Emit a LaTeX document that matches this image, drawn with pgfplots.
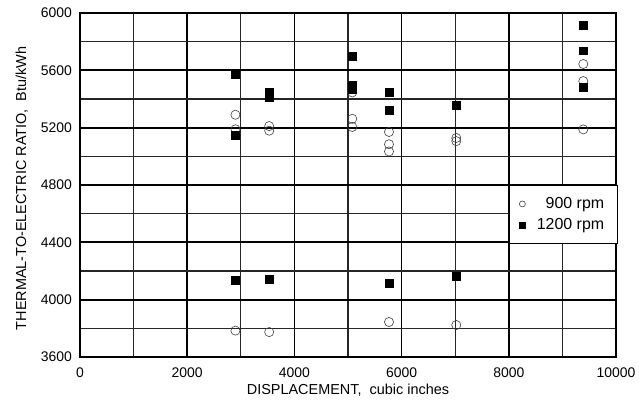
\documentclass[border=0pt]{standalone}
\usepackage{pgfplots}
\pgfplotsset{compat=1.18}
\usepackage{fontspec}
\setmainfont{Liberation Sans}
\begin{document}
\begin{tikzpicture}
\path[use as bounding box] (-80bp,-50bp) rectangle (559bp,357bp);
\begin{axis}[
  at={(0,0)}, anchor=south west,
  scale only axis, width=536bp, height=344bp,
  xmin=0, xmax=10000, ymin=3600, ymax=6000,
  xtick={0,2000,...,10000}, minor xtick={1000,3000,...,9000},
  ytick={3600,4000,...,6000}, minor ytick={3800,4200,...,5800},
  scaled ticks=false,
  grid=both,
  major grid style={black, line width=1.8pt},
  minor grid style={black!85, line width=1.2pt},
  axis line style={black, line width=1.8pt},
  major tick length=0pt, minor tick length=0pt,
  /pgf/number format/.cd, 1000 sep={}, assume math mode=true, /pgfplots/.cd,
  tick label style={font=\fontsize{14}{16}\selectfont, inner sep=0pt},
  xticklabel style={anchor=north, yshift=-11bp},
  yticklabel style={anchor=east, xshift=-8bp},
  xlabel={DISPLACEMENT,\ \ cubic inches},
  ylabel={THERMAL-TO-ELECTRIC RATIO,\ \ Btu/kWh},
  label style={font=\fontsize{14.5}{16}\selectfont, inner sep=0pt},
  xlabel style={at={(rel axis cs:0.5,-0.109)}, anchor=base},
  ylabel style={at={(rel axis cs:-0.1007,0.49)}, anchor=base},
  legend style={at={(rel axis cs:0.8,0.5)}, anchor=north west, draw=black, line width=1.2pt,
    fill=white, font=\fontsize{16}{18}\selectfont,
    inner xsep=10bp, inner ysep=10.5bp, row sep=5.5bp, column sep=10bp,
    nodes={inner sep=1.5bp}},
  legend cell align=right,
  legend image post style={mark size=3pt},
]
\addplot[only marks, mark=o, mark size=4.6pt, mark options={draw=black!75, fill=white, line width=0.6pt}]
coordinates {
(2900,5290) (2900,5189) (2900,3784)
(3530,5211) (3530,5179) (3530,3774)
(5080,5446) (5080,5262) (5080,5205)
(5765,5170) (5765,5084) (5765,5034) (5765,3844)
(7020,5128) (7020,5106) (7020,3823)
(9390,5644) (9390,5525) (9390,5188)
};
\addlegendentry{900 rpm\kern2bp}
\addplot[only marks, mark=square*, mark size=4pt, mark options={draw=black, fill=black, line width=0.4pt}]
coordinates {
(2900,5572) (2900,5145) (2900,4137)
(3530,5446) (3530,5411) (3530,4140)
(5080,5697) (5080,5494) (5080,5468)
(5765,5450) (5765,5322) (5765,4116)
(7020,5360) (7020,4165)
(9390,5915) (9390,5737) (9390,5479)
};
\addlegendentry{1200 rpm\kern2bp}
\end{axis}
\end{tikzpicture}
\end{document}
